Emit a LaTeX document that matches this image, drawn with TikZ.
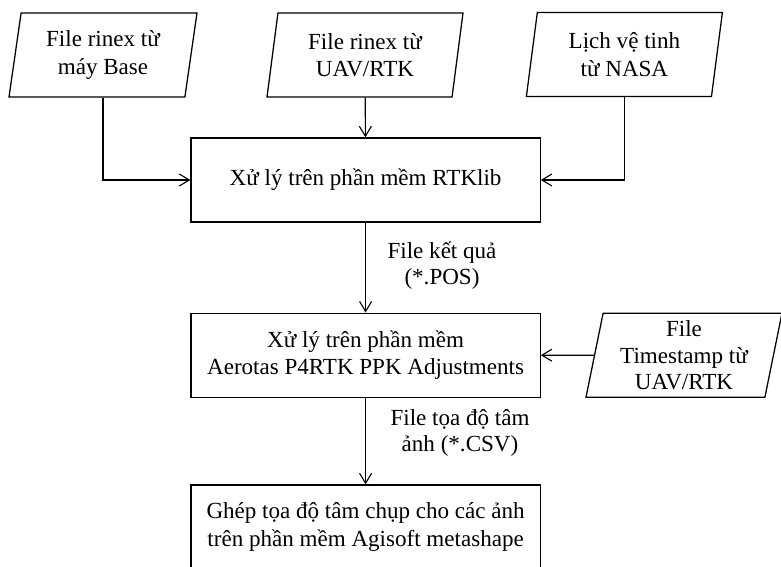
\documentclass[tikz,border=0pt]{standalone}
\usepackage{fontspec}
\setmainfont{Liberation Serif}
\usetikzlibrary{shapes.geometric,arrows.meta}

\begin{document}
\begin{tikzpicture}[
    inbox/.style={trapezium, trapezium left angle=76, trapezium right angle=104, trapezium stretches body, draw=black, line width=0.9pt, minimum width=4.9cm, minimum height=2.1cm, inner sep=0pt, align=center, font=\fontsize{16.4}{19.6}\selectfont},
    procbox/.style={rectangle, draw=black, line width=0.9pt, minimum width=8.73cm, minimum height=2.1cm, align=center, font=\fontsize{16.4}{19.6}\selectfont},
    arr/.style={-{Straight Barb[length=2.5mm, width=3mm]}, line width=0.8pt},
    lbl/.style={align=center, font=\fontsize{16.4}{18.6}\selectfont}]
    \useasboundingbox (0, 0) rectangle (19.525, 14.15);

    \node[inbox, minimum width=4.7cm] (base) at (2.575, 12.775) {File rinex từ\\máy Base};
    \node[inbox] (uav) at (9.125, 12.775) {File rinex từ\\UAV/RTK};
    \node[inbox] (nasa) at (15.61, 12.79) {Lịch vệ tinh\\từ NASA};
    \node[inbox, font=\fontsize{16.4}{18.6}\selectfont] (stamp) at (17.1, 5.27) {File\\Timestamp từ\\UAV/RTK};

    \node[procbox] (rtklib) at (9.14, 9.65) {Xử lý trên phần mềm RTKlib};
    \node[procbox] (aerotas) at (9.14, 5.27) {Xử lý trên phần mềm\\Aerotas P4RTK PPK Adjustments};
    \node[procbox] (agisoft) at (9.14, 0.975) {Ghép tọa độ tâm chụp cho các ảnh\\trên phần mềm Agisoft metashape};

    \node[lbl] (pos) at (11.05, 7.5) {File kết quả\\(*.POS)};
    \node[lbl] (csv) at (11.5, 3.325) {File tọa độ tâm\\ảnh (*.CSV)};

    \draw[arr] (base.south) |- (rtklib.west);
    \draw[arr] (uav) -- (rtklib);
    \draw[arr] (nasa.south) |- (rtklib.east);
    \draw[arr] (rtklib) -- (aerotas);
    \draw[arr] (stamp.west) -- (aerotas.east);
    \draw[arr] (aerotas) -- (agisoft);

\end{tikzpicture}
\end{document}
